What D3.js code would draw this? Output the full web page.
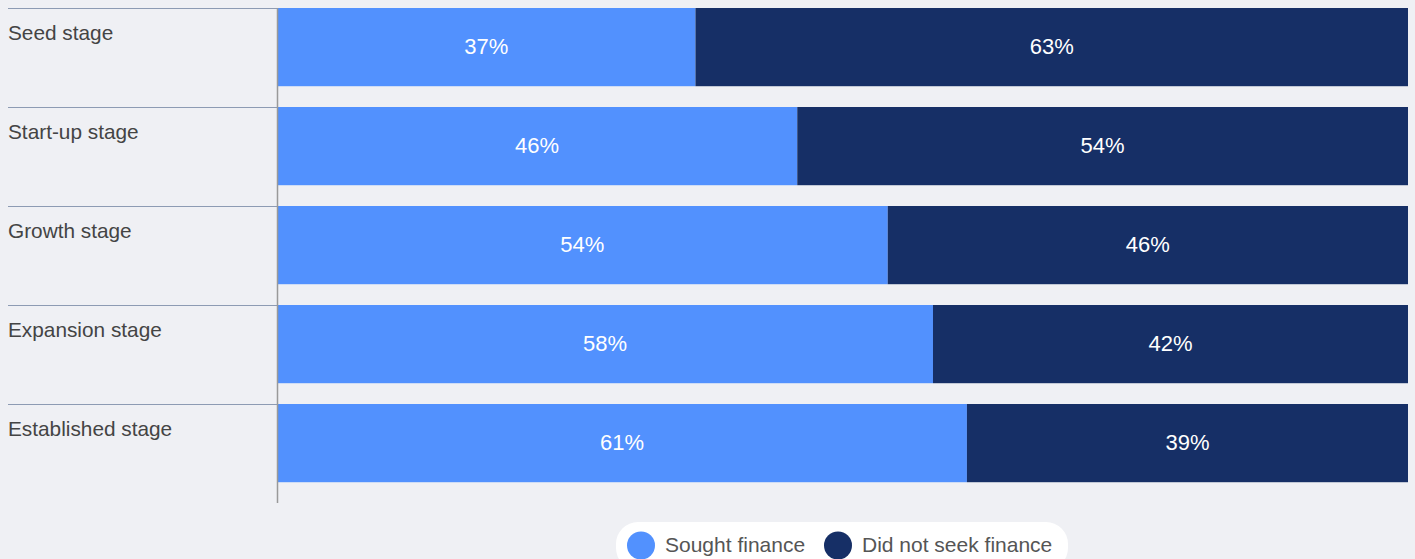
<!DOCTYPE html>
<html>
<head>
<meta charset="utf-8">
<script src="https://cdn.jsdelivr.net/npm/d3@7"></script>
<style>
  html, body { margin: 0; padding: 0; background: #eff0f4; }
  svg { display: block; font-family: "Liberation Sans", Arial, sans-serif; }
</style>
</head>
<body>
<svg id="chart" width="1415" height="559"></svg>
<script>
// Business stages and share of firms by financing behaviour (%)
const stages = ["Seed stage", "Start-up stage", "Growth stage", "Expansion stage", "Established stage"];
const soughtFinance = [37, 46, 54, 58, 61];
const didNotSeek = [63, 54, 46, 42, 39];
const seriesNames = ["Sought finance", "Did not seek finance"];
const seriesColors = ["#5291fe", "#162f66"];

const svg = d3.select("#chart");

const plotLeft = 277, plotRight = 1408;
const plotTop = 8, plotBottom = 503;

const x = d3.scaleLinear().domain([0, 100]).range([plotLeft, plotRight]);
const y = d3.scaleBand().domain(stages).range([plotTop, plotBottom]).padding(0);
const barH = y.bandwidth() * 0.79;

const rows = stages.map((s, i) => ({ stage: s, values: [soughtFinance[i], didNotSeek[i]] }));
const stacked = d3.stack().keys([0, 1]).value((d, k) => d.values[k])(rows);

// row separators on the label side
svg.append("g").selectAll("line").data(stages).join("line")
  .attr("x1", 8).attr("x2", plotLeft)
  .attr("y1", d => Math.round(y(d)) + 0.5).attr("y2", d => Math.round(y(d)) + 0.5)
  .attr("stroke", "#8d9bb3").attr("stroke-width", 1);

// category labels
svg.append("g").selectAll("text").data(stages).join("text")
  .attr("x", 8).attr("y", d => y(d) + 32)
  .attr("font-size", 20.8).attr("fill", "#444")
  .text(d => d);

// stacked bars
const layers = svg.append("g").selectAll("g").data(stacked).join("g")
  .attr("fill", (d, i) => seriesColors[i]);

layers.selectAll("rect").data(d => d).join("rect")
  .attr("x", d => x(d[0]))
  .attr("width", d => x(d[1]) - x(d[0]))
  .attr("y", d => y(d.data.stage))
  .attr("height", barH);

// value labels
layers.selectAll("text").data(d => d).join("text")
  .attr("x", d => (x(d[0]) + x(d[1])) / 2)
  .attr("y", d => y(d.data.stage) + barH / 2 - 1)
  .attr("dy", "0.36em")
  .attr("text-anchor", "middle")
  .attr("font-size", 22)
  .attr("fill", "#ffffff")
  .text(d => (d[1] - d[0]) + "%");

// vertical axis line
svg.append("line")
  .attr("x1", plotLeft + 0.5).attr("x2", plotLeft + 0.5)
  .attr("y1", plotTop).attr("y2", plotBottom)
  .attr("stroke", "#999").attr("stroke-width", 1.5);

// legend
const legend = svg.append("g");
legend.append("rect")
  .attr("x", 616).attr("y", 522).attr("width", 452).attr("height", 48)
  .attr("rx", 22).attr("fill", "#ffffff");
const legendItems = [
  { name: seriesNames[0], color: seriesColors[0], cx: 641 },
  { name: seriesNames[1], color: seriesColors[1], cx: 838 }
];
const li = legend.selectAll("g.item").data(legendItems).join("g").attr("class", "item");
li.append("circle").attr("cx", d => d.cx).attr("cy", 545.5).attr("r", 14).attr("fill", d => d.color);
li.append("text").attr("x", d => d.cx + 24).attr("y", 544.5).attr("dy", "0.36em")
  .attr("font-size", 21).attr("fill", "#555").text(d => d.name);
</script>
</body>
</html>
